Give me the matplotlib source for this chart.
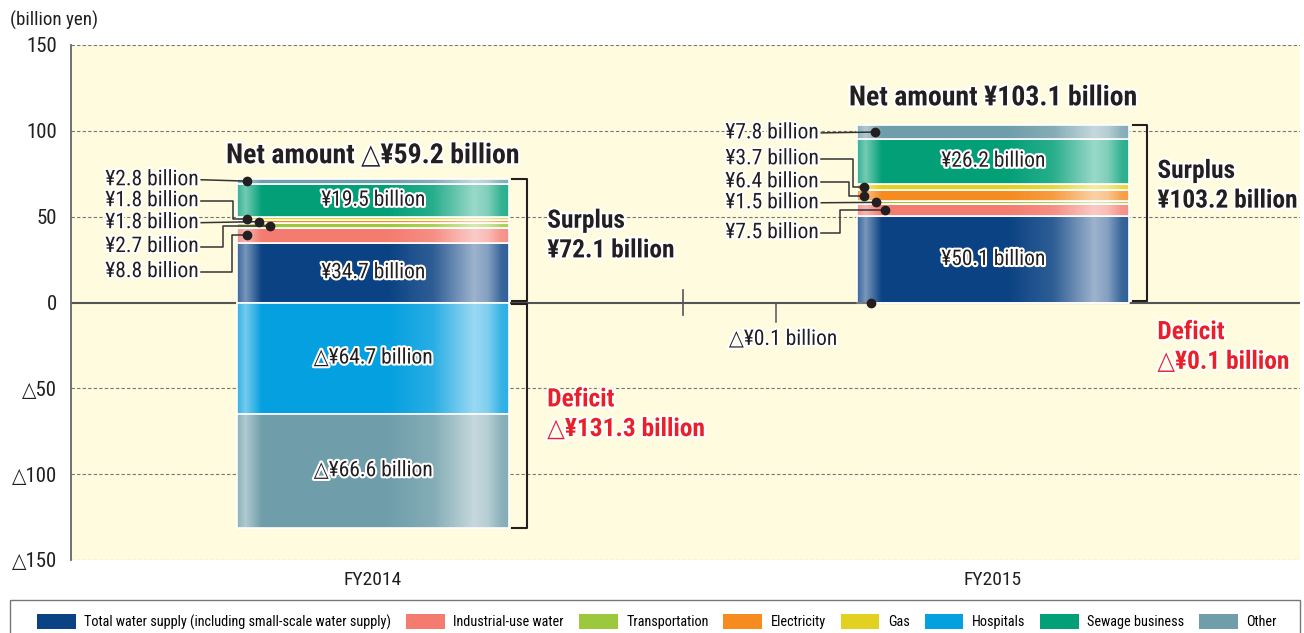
import numpy as np
import matplotlib.pyplot as plt
from matplotlib.patches import Patch, Rectangle
import matplotlib.patheffects as pe

plt.rcParams['font.family'] = ['Roboto Condensed', 'DejaVu Sans']
plt.rcParams['font.stretch'] = 'condensed'

# 事業別の黒字・赤字 (billion yen)
years = ['FY2014', 'FY2015']
sectors = ['Total water supply (including small-scale water supply)',
           'Industrial-use water', 'Transportation', 'Electricity', 'Gas',
           'Hospitals', 'Sewage business', 'Other']
colors = ['#0b4283', '#f47b70', '#9cc83d', '#f68b20', '#e2d120',
          '#04a0e0', '#03a078', '#6f9eaa']
surplus = {
    'FY2014': [34.7, 8.8, 2.7, 1.8, 1.8, 0.0, 19.5, 2.8],
    'FY2015': [50.1, 7.5, 1.5, 6.4, 3.7, 0.0, 26.2, 7.8],
}
deficit = {
    'FY2014': [0.0, 0.0, 0.0, 0.0, 0.0, -64.7, 0.0, -66.6],
    'FY2015': [0.0, 0.0, 0.0, 0.0, 0.0, -0.1, 0.0, 0.0],
}

# 引き出し線: (事業番号, ラベルy, 点のx, 折れ点x)
callouts = {
    'FY2014': [(7, 71.5, -0.203, None), (4, 59.3, -0.203, -0.226),
               (3, 46.5, -0.184, None), (2, 32.6, -0.166, -0.242),
               (1, 18.0, -0.203, -0.227)],
    'FY2015': [(7, 98.8, -0.190, None), (4, 83.7, -0.208, -0.226),
               (3, 70.3, -0.208, -0.232), (2, 58.1, -0.189, None),
               (1, 40.7, -0.175, -0.247)],
}
net_y = {'FY2014': 85.5, 'FY2015': 119.2}
surplus_pos = {'FY2014': (0.281, 39.0), 'FY2015': (0.265, 68.0)}
deficit_pos = {'FY2014': (0.281, -65.1), 'FY2015': (0.265, -25.9)}

red = '#e8202a'
ink = '#231f20'
W = 0.44
halo = [pe.withStroke(linewidth=3, foreground='white')]


def fmt(v):
    return ('△' if v < 0 else '') + '¥{:.1f} billion'.format(abs(v))


fig = plt.figure(figsize=(13.04, 6.33), dpi=100)
ax = fig.add_axes([71 / 1304, 1 - 560 / 633, 1229 / 1304, 515 / 633])
ax.set_facecolor('#fffbdf')


def shade(x0, x1, y0, y1):
    # 円柱っぽいハイライト
    t = np.linspace(0, 1, 300)
    a = np.interp(t, [0, .03, .05, .09, .55, .72, .87, .92, .97, 1],
                  [.2, .45, .3, 0, 0, .15, .6, .5, .2, .15])
    img = np.ones((1, 300, 4))
    img[..., 3] = a
    ax.imshow(img, extent=[x0, x1, y0, y1], aspect='auto', zorder=4,
              interpolation='bilinear')


for i, yr in enumerate(years):
    pos, neg = 0.0, 0.0
    mids = {}
    for k in range(len(sectors)):
        for v in (surplus[yr][k], deficit[yr][k]):
            if v == 0:
                continue
            b = pos if v > 0 else neg
            ax.bar(i, v, W, bottom=b, color=colors[k], edgecolor='white',
                   linewidth=1.2, zorder=3)
            if v > 0:
                mids[k] = b + v / 2
            if abs(v) >= 15:
                ax.text(i, b + v / 2, fmt(v), ha='center', va='center',
                        fontsize=15.5, color=ink, zorder=6, path_effects=halo)
            if v > 0:
                pos += v
            else:
                neg += v
    shade(i - W / 2, i + W / 2, neg, pos)

    # 小さい事業は引き出し線でラベル
    lx = i - 0.282
    for k, ly, dx, bx in callouts[yr]:
        dy = mids[k]
        if bx is None:
            xs, ys = [lx + 0.005, i + dx], [ly, dy]
        else:
            xs, ys = [lx + 0.005, i + bx, i + bx, i + dx], [ly, ly, dy, dy]
        ax.plot(xs, ys, color='#333333', lw=1.1, zorder=7)
        ax.plot(i + dx, dy, 'o', color=ink, ms=6, zorder=8)
        ax.text(lx, ly, fmt(surplus[yr][k]), ha='right', va='center',
                fontsize=15.5, color=ink, zorder=8, path_effects=halo)

    ax.text(i, net_y[yr], 'Net amount ' + fmt(pos + neg), ha='center',
            va='center', fontsize=20, fontweight='bold', color=ink, zorder=8,
            path_effects=halo)

    # 黒字・赤字の括弧
    xb = i + 0.248
    xe = i + 0.225
    ax.plot([xe, xb, xb, xe], [pos, pos, 0.6, 0.6], color=ink, lw=1.5,
            zorder=5)
    if neg < -10:
        ax.plot([xe, xb, xb, xe], [-0.6, -0.6, neg, neg], color=ink, lw=1.5,
                zorder=5)
    sx, sy = surplus_pos[yr]
    ax.text(i + sx, sy, 'Surplus\n' + fmt(pos), ha='left', va='center',
            fontsize=18.3, fontweight='bold', color=ink, linespacing=1.3,
            zorder=8, path_effects=halo)
    sx, sy = deficit_pos[yr]
    ax.text(i + sx, sy, 'Deficit\n' + fmt(neg), ha='left', va='center',
            fontsize=18.3, fontweight='bold', color=red, linespacing=1.3,
            zorder=8, path_effects=halo)

# FY2015 病院の赤字 (ごく小さい)
hv = deficit['FY2015'][5]
ax.plot([1 - 0.197, 1 - 0.350, 1 - 0.350], [hv / 2, hv / 2, -11.6],
        color='#555555', lw=1.1, zorder=7)
ax.plot(1 - 0.197, hv / 2, 'o', color=ink, ms=6, zorder=8)
ax.text(1 - 0.339, -21.5, fmt(hv), ha='center', va='center', fontsize=15.5,
        color=ink, zorder=8, path_effects=halo)

# 目盛線
for y in [-150, -100, -50, 50, 100, 150]:
    ax.axhline(y, color='#777777', lw=0.8, ls=(0, (3, 2)), zorder=1)
ax.axhline(0, color='#555555', lw=1.5, zorder=2)
ax.plot([0.5, 0.5], [-7, 7], color='#555555', lw=1.2, zorder=2)

ax.set_xlim(-0.487, 1.495)
ax.set_ylim(-150, 150)
yt = list(range(-150, 151, 50))
ax.set_yticks(yt)
ax.set_yticklabels([('△' if y < 0 else '') + str(abs(y)) for y in yt],
                   fontsize=15, color=ink)
ax.set_xticks([0, 1])
ax.set_xticklabels(years, fontsize=14, color=ink)
ax.tick_params(axis='both', length=0)
ax.tick_params(axis='y', pad=10)
ax.tick_params(axis='x', pad=8)
for s in ['top', 'right', 'bottom']:
    ax.spines[s].set_visible(False)
ax.spines['left'].set_color('#666666')
ax.spines['left'].set_linewidth(1.3)

fig.text(10 / 1304, 1 - 20 / 633, '(billion yen)', fontsize=13.7, color=ink,
         va='center')

# 凡例 (枠は別に描く)
fig.add_artist(Rectangle((10 / 1304, -0.02), 1290 / 1304, 33 / 633 + 0.02,
                         transform=fig.transFigure, facecolor='white',
                         edgecolor='#777777', linewidth=1.0, zorder=0))
handles = [Patch(facecolor=c, edgecolor='none') for c in colors]
leg = fig.legend(handles, sectors, loc='center left', ncol=8, mode='expand',
                 bbox_to_anchor=(37 / 1304, 1 - 622 / 633 - 0.01,
                                 1240 / 1304, 0.02),
                 fontsize=10.3, frameon=False,
                 handlelength=2.7, handleheight=1.15, handletextpad=0.6,
                 borderaxespad=0, borderpad=0, columnspacing=0.5)

fig.savefig('out.png', dpi=100)
